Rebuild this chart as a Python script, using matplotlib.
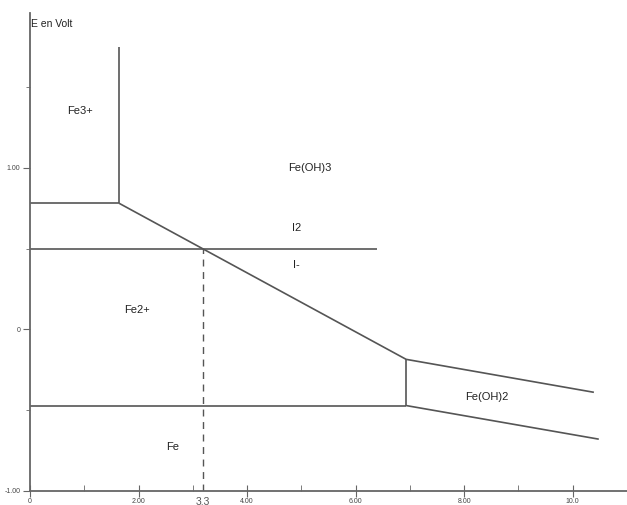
import matplotlib.pyplot as plt

plt.rcParams['font.family'] = ['Liberation Sans', 'DejaVu Sans']

# frontières du diagramme (pH, E en V)
fe3_vert_ph = [1.64, 1.64]
fe3_vert_e = [1.75, 0.78]
fe3_fe2_ph = [0.0, 1.64]
fe3_fe2_e = [0.78, 0.78]
pente_ph = [1.64, 6.93]
pente_e = [0.78, -0.186]
fe2_vert_ph = [6.93, 6.93]
fe2_vert_e = [-0.186, -0.472]
fe2_fe_ph = [0.0, 6.93]
fe2_fe_e = [-0.472, -0.472]
oh3_oh2_ph = [6.93, 10.39]
oh3_oh2_e = [-0.186, -0.39]
oh2_fe_ph = [6.93, 10.48]
oh2_fe_e = [-0.472, -0.68]
iode_ph = [0.0, 6.40]
iode_e = [0.497, 0.497]

especes = ['Fe3+', 'Fe(OH)3', 'I2', 'I-', 'Fe2+', 'Fe(OH)2', 'Fe']
especes_ph = [0.92, 5.15, 4.91, 4.91, 1.97, 8.42, 2.63]
especes_e = [1.35, 1.00, 0.63, 0.40, 0.12, -0.42, -0.73]

xticks = [0, 2, 4, 6, 8, 10]
xlabels = ['0', '2.00', '4.00', '6.00', '8.00', '10.0']
yticks = [-1, 0, 1]
ylabels = ['-1.00', '0', '1.00']

fig = plt.figure(figsize=(6.27, 5.05), dpi=100)
ax = fig.add_axes([0.048, 0.028, 0.952, 0.947])

c = '#555555'
lw = 1.2
for xs, ys in [(fe3_vert_ph, fe3_vert_e), (fe3_fe2_ph, fe3_fe2_e), (pente_ph, pente_e),
               (fe2_vert_ph, fe2_vert_e), (fe2_fe_ph, fe2_fe_e), (oh3_oh2_ph, oh3_oh2_e),
               (oh2_fe_ph, oh2_fe_e), (iode_ph, iode_e)]:
    ax.plot(xs, ys, color=c, lw=lw, solid_capstyle='butt')

# intersection I2/I- avec Fe(OH)3/Fe2+
a = (pente_e[1] - pente_e[0]) / (pente_ph[1] - pente_ph[0])
ph_int = pente_ph[0] + (iode_e[0] - pente_e[0]) / a
ax.plot([ph_int, ph_int], [-1, iode_e[0]], color=c, lw=1.0, ls=(0, (5, 4)))
ax.text(ph_int, -1.035, '3,3', ha='center', va='top', fontsize=7.5, color='#555555')

for nom, x, y in zip(especes, especes_ph, especes_e):
    ax.text(x, y, nom, ha='center', va='center', fontsize=8, color='#222222')

ax.text(0.02, 1.89, 'E en Volt', ha='left', va='center', fontsize=7.5, color='#222222')

ax.set_xlim(0, 11)
ax.set_ylim(-1, 1.96)
ax.spines['top'].set_visible(False)
ax.spines['right'].set_visible(False)
for s in ['left', 'bottom']:
    ax.spines[s].set_color('#666666')
    ax.spines[s].set_linewidth(1.3)

ax.set_xticks(xticks)
ax.set_xticklabels(xlabels)
ax.set_xticks([1, 3, 5, 7, 9], minor=True)
ax.set_yticks(yticks)
ax.set_yticklabels(ylabels)
ax.set_yticks([-0.5, 0.5, 1.5], minor=True)
ax.tick_params(axis='x', which='major', direction='inout', length=8, labelsize=5, pad=1, color='#666666', labelcolor='#444444')
ax.tick_params(axis='x', which='minor', direction='in', length=4, color='#666666')
ax.tick_params(axis='y', which='major', direction='out', length=5, labelsize=5, pad=2, color='#666666', labelcolor='#444444')
ax.tick_params(axis='y', which='minor', direction='out', length=3, color='#666666')

fig.savefig('out.png', dpi=100)
